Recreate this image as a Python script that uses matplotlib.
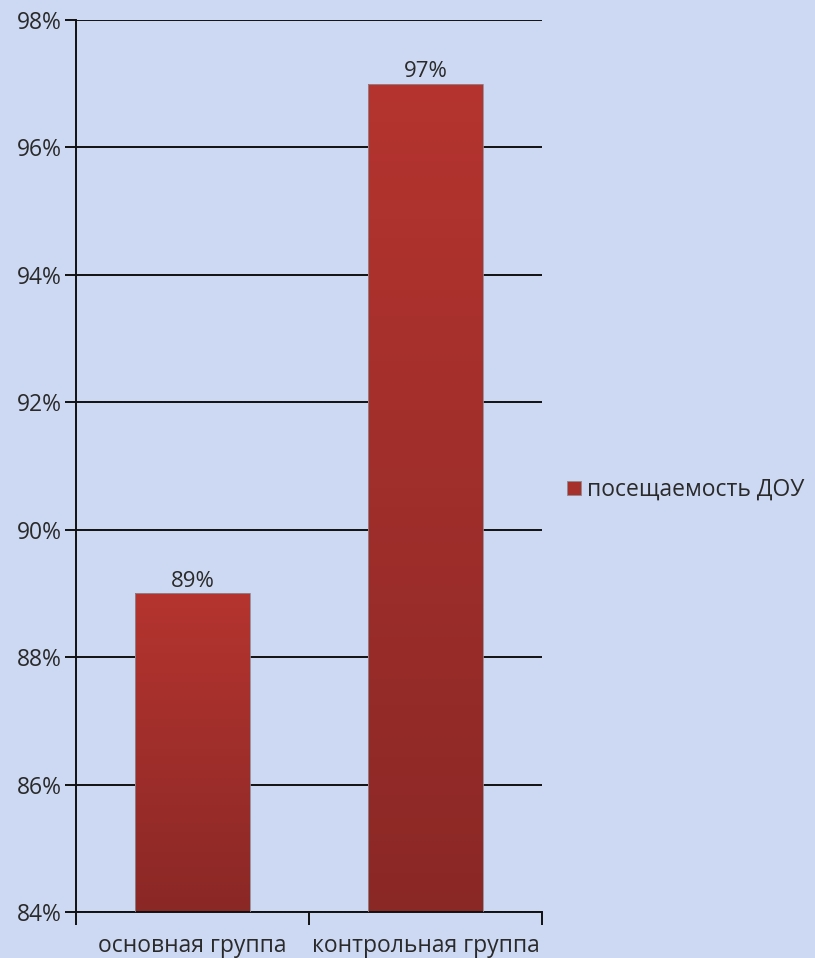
import matplotlib.pyplot as plt
import matplotlib.patches as mpatches
import numpy as np
from matplotlib.colors import LinearSegmentedColormap

categories = ['основная группа', 'контрольная группа']
values = [89, 97]
series_name = 'посещаемость ДОУ'
yticks = [84, 86, 88, 90, 92, 94, 96, 98]

plt.rcParams['font.family'] = ['Open Sans', 'DejaVu Sans']

bg = '#cdd9f2'
fig = plt.figure(figsize=(8.15, 9.58), dpi=100, facecolor=bg)
ax = fig.add_axes([76 / 815, 1 - 912 / 958, 466 / 815, 892 / 958])
ax.set_facecolor('none')

x = np.arange(len(categories))
bars = ax.bar(x, [v - 84 for v in values], bottom=84, width=0.49,
              color='none', edgecolor='#8f8a90', linewidth=0.6, zorder=3)

# vertical gradient inside each bar
cmap = LinearSegmentedColormap.from_list('bar', ['#8a2826', '#b5342f'])
grad = np.linspace(0, 1, 256).reshape(-1, 1)
for b in bars:
    x0, y0 = b.get_x(), b.get_y()
    im = ax.imshow(grad, cmap=cmap, origin='lower', aspect='auto',
                   extent=[x0, x0 + b.get_width(), y0, y0 + b.get_height()], zorder=2)
    im.set_clip_path(b)

txt = '#2a2a2a'
for xi, v in zip(x, values):
    ax.text(xi, v + 0.03, f'{v}%', ha='center', va='bottom', fontsize=16, color=txt, zorder=4)

ax.set_xlim(-0.5, 1.5)
ax.set_ylim(84, 98)
ax.set_yticks(yticks)
ax.set_yticklabels([f'{t}%' for t in yticks], fontsize=16.5, color=txt)
ax.yaxis.grid(True, color='#111111', linewidth=1.4)
ax.set_axisbelow(True)

ax.set_xticks([-0.5, 0.5, 1.5])
ax.set_xticklabels([])
ax.set_xticks(x, minor=True)
ax.set_xticklabels(categories, minor=True, fontsize=16.5, color=txt)
ax.tick_params(axis='x', which='minor', length=0, pad=16)
ax.tick_params(axis='x', which='major', length=9, width=1.4, color='#111111')
ax.tick_params(axis='y', length=8, width=1.4, color='#111111', pad=2)

for s in ['top', 'right']:
    ax.spines[s].set_visible(False)
for s in ['left', 'bottom']:
    ax.spines[s].set_color('#111111')
    ax.spines[s].set_linewidth(1.4)

handle = mpatches.Patch(facecolor='#a6302c', edgecolor='#8f8a90', linewidth=0.6)
fig.legend([handle], [series_name], loc='center left', bbox_to_anchor=(558 / 815, 1 - 490 / 958),
           frameon=False, fontsize=16.5, handlelength=0.6, handleheight=0.6, handletextpad=0.25,
           labelcolor=txt, borderaxespad=0)

fig.savefig('out.png', dpi=100, facecolor=bg)
